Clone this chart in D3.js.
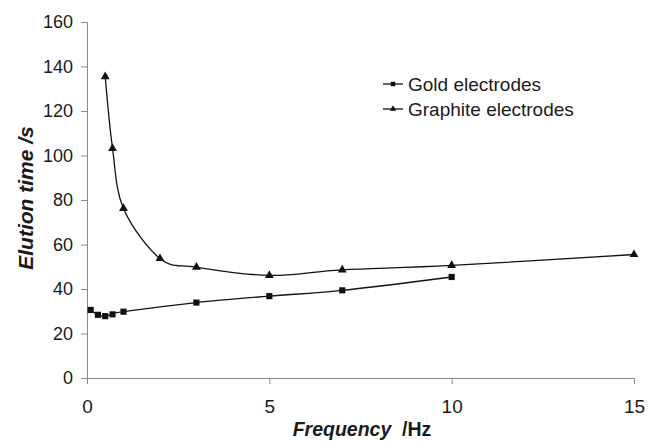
<!DOCTYPE html>
<html>
<head>
<meta charset="utf-8">
<script src="https://cdn.jsdelivr.net/npm/d3@7"></script>
<style>
  body { margin: 0; background: #fff; }
  text { font-family: "Liberation Sans", Arial, sans-serif; fill: #1a1a1a; }
</style>
</head>
<body>
<div id="chart"></div>
<script>
// Data
const goldFreq = [0.1, 0.3, 0.5, 0.7, 1, 3, 5, 7, 10]
const goldTime = [30.6, 28.4, 27.8, 28.6, 29.8, 33.9, 36.8, 39.4, 45.4]
const graphiteFreq = [0.5, 0.7, 1, 2, 3, 5, 7, 10, 15]
const graphiteTime = [135.4, 103.2, 76.2, 53.7, 49.8, 46.1, 48.6, 50.6, 55.5]
const xTicks = [0, 5, 10, 15]
const yTicks = [0, 20, 40, 60, 80, 100, 120, 140, 160]
const seriesNames = ['Gold electrodes', 'Graphite electrodes']

const width = 648,
  height = 442

const svg = d3.select('#chart')
  .append('svg')
  .attr('width', width)
  .attr('height', height)

const x = d3.scaleLinear().domain([0, 15]).range([87, 634])
const y = d3.scaleLinear().domain([0, 160]).range([378, 22])

// axes
const yAxis = svg.append('g')
  .attr('transform', `translate(${x(0)},0)`)
  .call(d3.axisLeft(y).tickValues(yTicks).tickSize(6).tickPadding(8))
const xAxis = svg.append('g')
  .attr('transform', `translate(0,${y(0)})`)
  .call(d3.axisBottom(x).tickValues(xTicks).tickSize(6).tickPadding(16))

;[xAxis, yAxis].forEach(g => {
  g.selectAll('path, line').attr('stroke', '#8a8a8a').attr('stroke-width', 1)
  g.selectAll('text').attr('fill', '#1a1a1a')
})
yAxis.selectAll('text').style('font-size', '18px')
xAxis.selectAll('text').style('font-size', '19px')

// axis titles
svg.append('text')
  .attr('transform', `translate(33,${(y(0) + y(160)) / 2 - 2}) rotate(-90)`)
  .attr('text-anchor', 'middle')
  .style('font-size', '21px')
  .style('font-weight', 'bold')
  .style('font-style', 'italic')
  .text('Elution time /s')

const xt = svg.append('text')
  .attr('x', 362)
  .attr('y', 436)
  .attr('text-anchor', 'middle')
  .style('font-size', '19.5px')
  .style('font-weight', 'bold')
  .attr('xml:space', 'preserve')
xt.append('tspan').style('font-style', 'italic').text('Frequency  ')
xt.append('tspan').text('/Hz')

// series
const line = d3.line()
  .x(d => x(d[0]))
  .y(d => y(d[1]))
  .curve(d3.curveCardinal.tension(0))

const gold = goldFreq.map((f, i) => [f, goldTime[i]])
const graphite = graphiteFreq.map((f, i) => [f, graphiteTime[i]])

svg.append('path').datum(gold).attr('d', line)
  .attr('fill', 'none').attr('stroke', '#111').attr('stroke-width', 1.3)
svg.append('path').datum(graphite).attr('d', line)
  .attr('fill', 'none').attr('stroke', '#111').attr('stroke-width', 1.3)

const square = d3.symbol().type(d3.symbolSquare).size(38)
const tri = d3.symbol().type(d3.symbolTriangle).size(34)

svg.selectAll('.gold').data(gold).enter()
  .append('path')
  .attr('class', 'gold')
  .attr('transform', d => `translate(${x(d[0])},${y(d[1])})`)
  .attr('d', square)
  .attr('fill', '#111')

svg.selectAll('.graphite').data(graphite).enter()
  .append('path')
  .attr('class', 'graphite')
  .attr('transform', d => `translate(${x(d[0])},${y(d[1])})`)
  .attr('d', tri)
  .attr('fill', '#111')

// legend
const legend = svg.append('g').attr('transform', 'translate(383,84)')
seriesNames.forEach((name, i) => {
  const g = legend.append('g').attr('transform', `translate(0,${i * 25})`)
  g.append('line').attr('x1', 0).attr('x2', 20).attr('y1', 0).attr('y2', 0)
    .attr('stroke', '#111').attr('stroke-width', 1.3)
  g.append('path').attr('transform', 'translate(10,0)')
    .attr('d', i === 0 ? d3.symbol().type(d3.symbolSquare).size(20)() : d3.symbol().type(d3.symbolTriangle).size(18)())
    .attr('fill', '#111')
  g.append('text').attr('x', 25).attr('y', 7)
    .style('font-size', '19px')
    .text(name)
})
</script>
</body>
</html>
